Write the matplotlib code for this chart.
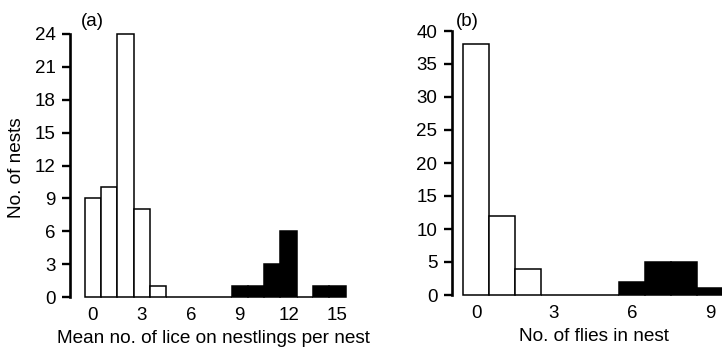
import numpy as np
import matplotlib
matplotlib.use("Agg")
import matplotlib.pyplot as plt

plt.rcParams["font.family"] = ["Liberation Sans", "DejaVu Sans"]

# (a) lice per nest, bins 0..15
lice_bins = np.arange(16)
lice_nests = [9, 10, 24, 8, 1, 0, 0, 0, 0, 1, 1, 3, 6, 0, 1, 1]
lice_dark_from = 9
lice_xticks = [0, 3, 6, 9, 12, 15]
lice_yticks = [0, 3, 6, 9, 12, 15, 18, 21, 24]

# (b) flies per nest, bins 0..9
fly_bins = np.arange(10)
fly_nests = [38, 12, 4, 0, 0, 0, 2, 5, 5, 1]
fly_dark_from = 6
fly_xticks = [0, 3, 6, 9]
fly_yticks = [0, 5, 10, 15, 20, 25, 30, 35, 40]

W, H = 722, 350
fig = plt.figure(figsize=(W / 100, H / 100), dpi=100)


def px_axes(x0, x1, ytop, ybot):
    return fig.add_axes([x0 / W, 1 - ybot / H, (x1 - x0) / W, (ybot - ytop) / H])


def hist_panel(ax, bins, counts, dark_from, xticks, yticks, xlim, xlabel):
    colors = ["black" if b >= dark_from else "white" for b in bins]
    ax.bar(bins, counts, width=1.0, color=colors, edgecolor="black",
           linewidth=1.1, clip_on=False, zorder=3)
    ax.set_xlim(*xlim)
    ax.set_ylim(yticks[0], yticks[-1])
    ax.set_xticks(xticks)
    ax.set_yticks(yticks)
    for s in ["top", "right", "bottom"]:
        ax.spines[s].set_visible(False)
    ax.spines["left"].set_linewidth(1.9)
    ax.spines["left"].set_bounds(yticks[0], yticks[-1])
    ax.tick_params(axis="y", direction="out", length=6, width=1.7,
                   pad=4.5, labelsize=13.5)
    ax.tick_params(axis="x", length=0, pad=7, labelsize=13.5)
    ax.set_xlabel(xlabel, fontsize=13.7)


ax1 = px_axes(70, 350, 34, 297)
hist_panel(ax1, lice_bins, lice_nests, lice_dark_from, lice_xticks,
           lice_yticks, ((70 - 93) / 16.3, (350 - 93) / 16.3),
           "Mean no. of lice on nestlings per nest")
ax1.set_ylabel("No. of nests", fontsize=13.7)
ax1.xaxis.set_label_coords((213 - 70) / 280, -(330 - 297) / 263)
ax1.yaxis.set_label_coords(-0.16, 0.49)

ax2 = px_axes(452, 722, 31, 295)
hist_panel(ax2, fly_bins, fly_nests, fly_dark_from, fly_xticks,
           fly_yticks, ((452 - 476) / 26.0, (722 - 476) / 26.0),
           "No. of flies in nest")
ax2.xaxis.set_label_coords((594 - 452) / 270, -(328 - 295) / 264)

fig.text(92 / W, 1 - 22 / H, "(a)", ha="center", va="center", fontsize=13.5)
fig.text(467 / W, 1 - 21 / H, "(b)", ha="center", va="center", fontsize=13.5)

fig.savefig("out.png", dpi=100)
